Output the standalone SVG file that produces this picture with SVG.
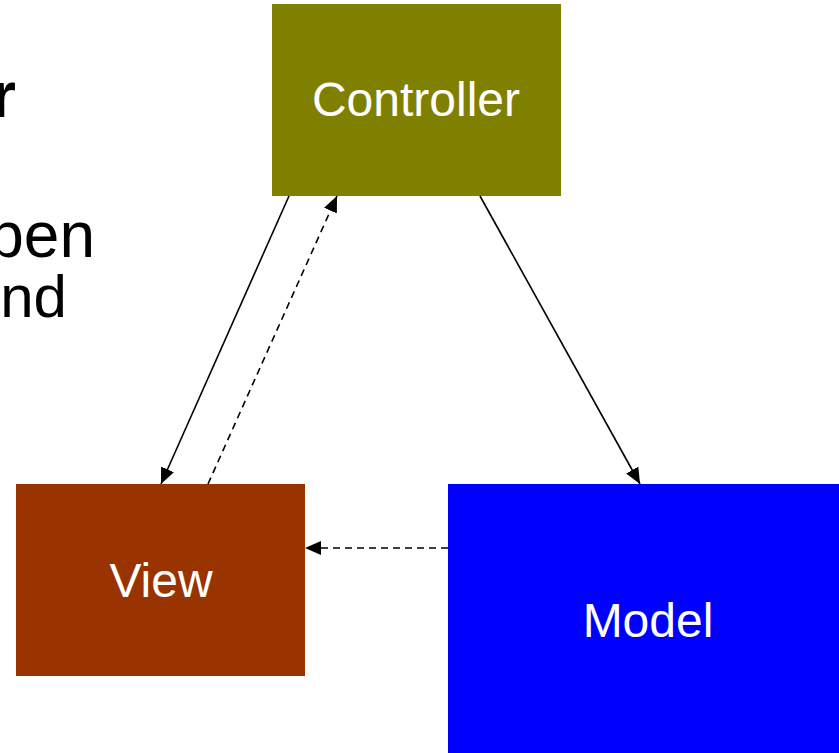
<svg xmlns="http://www.w3.org/2000/svg" width="839" height="753" viewBox="0 0 839 753">
<style>
.lbl{font-family:"Liberation Sans",Arial,sans-serif;font-size:48px;fill:#fff;text-anchor:middle}
.side{font-family:"Liberation Sans",Arial,sans-serif;fill:#000;text-anchor:end}
.edge{stroke:#000;stroke-width:1.6;fill:none}
.dash{stroke-dasharray:7,5}
</style>
<defs>
<marker id="arr" viewBox="0 0 16 14" refX="16" refY="7" markerWidth="16" markerHeight="14" markerUnits="userSpaceOnUse" orient="auto">
<path d="M0,0 L16,7 L0,14 Z" fill="#000"/>
</marker>
</defs>
<rect width="839" height="753" fill="#fff"/>
<g id="sidetext">
<text class="side" x="16" y="117" font-size="64" font-weight="bold">r</text>
<text class="side" x="95" y="257" font-size="64">pen</text>
<text class="side" x="67" y="317" font-size="60">nd</text>
</g>
<g id="controller">
<rect x="272" y="4" width="289" height="192" fill="#808000"/>
<text class="lbl" x="416" y="116">Controller</text>
</g>
<g id="view">
<rect x="16" y="484" width="289" height="192" fill="#993300"/>
<text class="lbl" x="161" y="597">View</text>
</g>
<g id="model">
<rect x="448" y="484" width="391" height="269" fill="#0000ff"/>
<text class="lbl" x="648" y="637">Model</text>
</g>
<g id="connectors">
<line class="edge" x1="289" y1="196" x2="161" y2="484" marker-end="url(#arr)"/>
<line class="edge dash" x1="208" y1="484" x2="337" y2="196" marker-end="url(#arr)"/>
<line class="edge" x1="480" y1="196" x2="640" y2="484" marker-end="url(#arr)"/>
<line class="edge dash" x1="448" y1="548" x2="305" y2="548" marker-end="url(#arr)"/>
</g>
</svg>
